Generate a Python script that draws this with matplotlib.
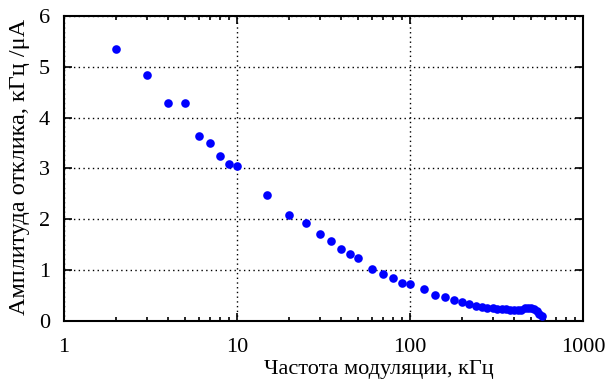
import matplotlib
matplotlib.use("Agg")
import matplotlib.pyplot as plt
from matplotlib.ticker import FixedLocator, FixedFormatter, LogLocator, NullFormatter

plt.rcParams.update({"font.family": ["Liberation Serif", "DejaVu Serif"],
                     "font.size": 16})

# частота модуляции, кГц и амплитуда отклика, кГц/мкА
freq = [2, 3, 4, 5, 6, 7, 8, 9, 10, 15, 20, 25, 30, 35, 40, 45, 50,
        60, 70, 80, 90, 100, 120, 140, 160, 180, 200, 220, 240,
        260, 280, 300, 320, 340, 360, 380, 400, 420, 440, 460, 480,
        500, 520, 540, 560, 580]
ampl = [5.35, 4.84, 4.29, 4.29, 3.64, 3.51, 3.25, 3.08, 3.04, 2.48, 2.09,
        1.92, 1.71, 1.57, 1.41, 1.32, 1.23, 1.02, 0.93, 0.85, 0.74, 0.72,
        0.62, 0.51, 0.47, 0.42, 0.37, 0.33, 0.30,
        0.28, 0.265, 0.255, 0.245, 0.235, 0.23, 0.225, 0.22, 0.22, 0.225,
        0.25, 0.26, 0.26, 0.24, 0.19, 0.14, 0.10]
xticks = [1, 10, 100, 1000]
xtick_labels = ["1", "10", "100", "1000"]
yticks = [0, 1, 2, 3, 4, 5, 6]

fig = plt.figure(figsize=(6.11, 3.81), dpi=100)
ax = fig.add_axes([0.1047, 0.1575, 0.8495, 0.8005])
ax.plot(freq, ampl, "o", color="#0000ff", ms=6.2, mec="none", zorder=3)

ax.set_xscale("log")
ax.set_xlim(1, 1000)
ax.set_ylim(0, 6)
ax.xaxis.set_major_locator(FixedLocator(xticks))
ax.xaxis.set_major_formatter(FixedFormatter(xtick_labels))
ax.xaxis.set_minor_locator(LogLocator(base=10, subs=range(2, 10)))
ax.xaxis.set_minor_formatter(NullFormatter())
ax.set_yticks(yticks)

ax.tick_params(which="both", direction="in", top=True, right=True, width=1.2)
ax.tick_params(which="major", length=6)
ax.tick_params(axis="x", which="major", pad=12)
ax.tick_params(axis="y", which="major", pad=10)
ax.tick_params(which="minor", length=3.2)
for s in ax.spines.values():
    s.set_linewidth(1.5)
ax.grid(True, which="major", color="black", ls=(0, (1, 2.4)), lw=1.0)

ax.set_xlabel("Частота модуляции, кГц")
ax.set_ylabel("Амплитуда отклика, кГц /μА", fontsize=17.5)
ax.xaxis.set_label_coords(0.606, -0.128)
ax.yaxis.set_label_coords(-0.0655, 0.505)

fig.savefig("out.png", dpi=100)
